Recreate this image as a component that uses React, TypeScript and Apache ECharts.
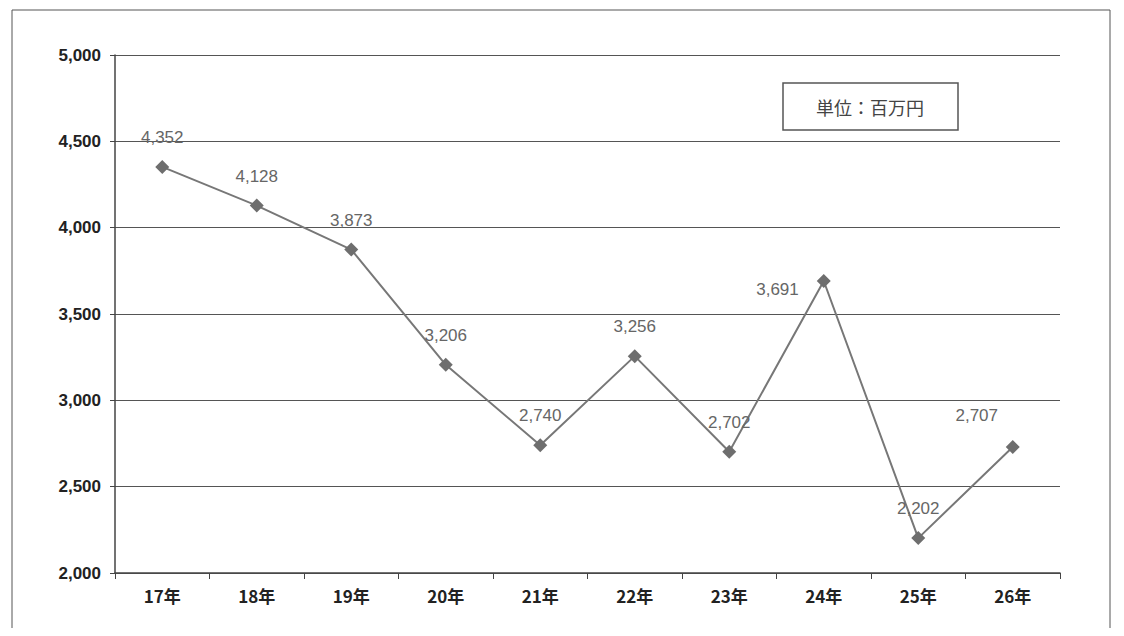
import React, { useEffect, useRef } from "react";
import * as echarts from "echarts";

const categories = ["17年", "18年", "19年", "20年", "21年", "22年", "23年", "24年", "25年", "26年"];
const values = [4352, 4128, 3873, 3206, 2740, 3256, 2702, 3691, 2202, 2730];
const labels = ["4,352", "4,128", "3,873", "3,206", "2,740", "3,256", "2,702", "3,691", "2,202", "2,707"];

export default function App() {
  const ref = useRef<HTMLDivElement>(null);
  useEffect(() => {
    const chart = echarts.init(ref.current!, null, { renderer: "svg" });
    const data = values.map((v, i) => {
      const d: any = { value: v, label: { formatter: labels[i] } };
      if (i === 7) d.label.position = "left";
      if (i === 7) d.label.offset = [-4, 8];
      if (i === 9) d.label.offset = [-36, -2];
      return d;
    });
    chart.setOption({
      animation: false,
      backgroundColor: "#fff",
      grid: { left: 107, right: 56, top: 47, bottom: 55 },
      graphic: [
        { type: "rect", shape: { x: 4, y: 2, width: 1098, height: 640 }, style: { fill: "none", stroke: "#555", lineWidth: 1 } },
        { type: "rect", shape: { x: 775, y: 75, width: 175, height: 47 }, style: { fill: "#fff", stroke: "#555", lineWidth: 1.5 } },
        { type: "text", x: 862, y: 99, style: { text: "単位：百万円", fill: "#444", font: "18px 'Noto Sans CJK JP'", align: "center", verticalAlign: "middle" } },
      ],
      xAxis: {
        type: "category",
        data: categories,
        boundaryGap: true,
        axisLine: { lineStyle: { color: "#444", width: 1.5 } },
        axisTick: { show: true, length: 6, lineStyle: { color: "#444" } },
        axisLabel: { color: "#222", fontSize: 17, fontWeight: "bold", margin: 14, fontFamily: "'Noto Sans CJK JP'" },
      },
      yAxis: {
        type: "value",
        min: 2000,
        max: 5000,
        interval: 500,
        axisLine: { show: true, lineStyle: { color: "#444", width: 1.5 } },
        axisTick: { show: true, lineStyle: { color: "#444" } },
        splitLine: { lineStyle: { color: "#555", width: 1.2 } },
        axisLabel: {
          color: "#222", fontSize: 17, fontWeight: "bold", fontFamily: "Arial, 'Liberation Sans'",
          formatter: (v: number) => v.toLocaleString("en-US"), margin: 14,
        },
      },
      series: [
        {
          type: "line",
          data,
          symbol: "diamond",
          symbolSize: 14,
          lineStyle: { color: "#777", width: 2 },
          itemStyle: { color: "#6e6e6e" },
          label: { show: true, position: "top", distance: 14, color: "#666", fontSize: 17, fontFamily: "Arial, 'Liberation Sans'" },
        },
      ],
    });
    return () => chart.dispose();
  }, []);
  return <div ref={ref} style={{ width: 1108, height: 620 }} />;
}
